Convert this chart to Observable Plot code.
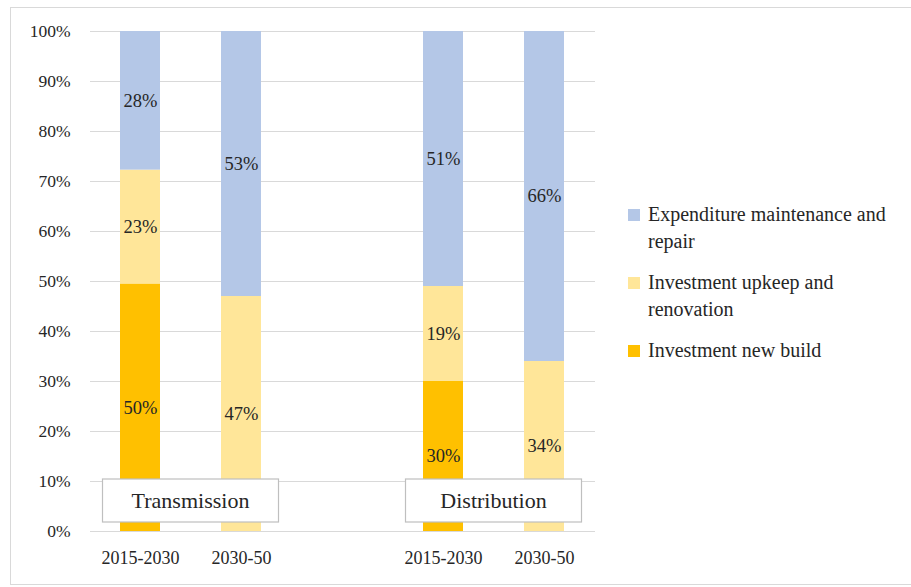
<!DOCTYPE html>
<html>
<head>
<meta charset="utf-8">
<script src="https://cdn.jsdelivr.net/npm/d3@7"></script>
<script src="https://cdn.jsdelivr.net/npm/@observablehq/plot@0.6"></script>
<style>
  html, body { margin: 0; padding: 0; background: #fff; }
  #wrap { position: relative; width: 911px; height: 587px; overflow: hidden;
          font-family: "Liberation Serif", "DejaVu Serif", serif; color: #262626; }
  #frame { position: absolute; left: 10px; top: 7px; width: 910px; height: 578px;
           border: 1px solid #d9d9d9; box-sizing: border-box; }
  #chart { position: absolute; left: 0; top: 0; }
  #legend { position: absolute; left: 628px; top: 201px; font-size: 20px; line-height: 27px; }
  .item { display: flex; align-items: flex-start; margin-bottom: 14px; }
  .sw { width: 12px; height: 12px; margin-top: 8px; margin-right: 8px; flex: none; }
  .lab { width: 258px; }
</style>
</head>
<body>
<div id="wrap">
  <div id="frame"></div>
  <div id="chart"></div>
  <div id="legend"></div>
</div>
<script>
// Bar slots along the x axis (the empty slot separates the two networks)
const slots = ["T1", "T2", "gap", "D1", "D2"];
const slotLabels = ["2015-2030", "2030-50", "", "2015-2030", "2030-50"];

// Cost components, bottom to top in each stack
const series = ["Investment new build", "Investment upkeep and renovation", "Expenditure maintenance and repair"];
const colors = ["#FFC000", "#FFE699", "#B4C7E7"];

// Shares (%) per slot, one array per component
const newBuild    = [50, 0, null, 30, 0];
const upkeep      = [23, 47, null, 19, 34];
const maintenance = [28, 53, null, 51, 66];

// Network groups and the slots they span
const groupNames = ["Transmission", "Distribution"];
const groupSlots = [["T1", "T2"], ["D1", "D2"]];

const yTicks = [0, 0.1, 0.2, 0.3, 0.4, 0.5, 0.6, 0.7, 0.8, 0.9, 1];

const rows = [];
[newBuild, upkeep, maintenance].forEach((vals, si) => {
  vals.forEach((v, i) => {
    if (v) rows.push({slot: slots[i], series: series[si], value: v});
  });
});

const stackOpts = {x: "slot", y: "value", z: "series", order: series, offset: "normalize"};

const chart = Plot.plot({
  width: 911,
  height: 587,
  marginTop: 31,
  marginBottom: 56,
  marginLeft: 90,
  marginRight: 316,
  style: {fontFamily: "'Liberation Serif', 'DejaVu Serif', serif", color: "#262626", background: "transparent"},
  x: {domain: slots, paddingInner: 0.6, paddingOuter: 0.3, label: null},
  y: {domain: [0, 1], label: null},
  color: {domain: series, range: colors},
  marks: [
    Plot.ruleY(yTicks, {stroke: "#d9d9d9", strokeWidth: 1.2}),
    Plot.axisY({ticks: yTicks, tickFormat: d3.format(".0%"), tickSize: 0, tickPadding: 20,
                fontSize: 17.5, label: null, fill: "#262626"}),
    Plot.axisX({tickSize: 0, tickPadding: 20, fontSize: 18, label: null, fill: "#262626",
                tickFormat: d => slotLabels[slots.indexOf(d)]}),
    Plot.barY(rows, Plot.stackY({...stackOpts, fill: "series"})),
    Plot.text(rows, Plot.stackY({...stackOpts, text: d => d.value + "%", fontSize: 18.5, fill: "#262626"}))
  ]
});
document.getElementById("chart").appendChild(chart);

// Group name boxes laid over the lower part of each pair of bars
const xs = chart.scale("x");
const ys = chart.scale("y");
const svg = d3.select(chart);
const boxW = 176;
groupNames.forEach((name, gi) => {
  const [a, b] = groupSlots[gi];
  const cx = (xs.apply(a) + xs.apply(b)) / 2 + xs.bandwidth / 2;
  const top = ys.apply(0.104), bottom = ys.apply(0.018);
  const g = svg.append("g");
  g.append("rect")
    .attr("x", cx - boxW / 2).attr("y", top)
    .attr("width", boxW).attr("height", bottom - top)
    .attr("fill", "#fff").attr("stroke", "#bfbfbf").attr("stroke-width", 1.2);
  g.append("text")
    .attr("x", cx).attr("y", (top + bottom) / 2)
    .attr("text-anchor", "middle").attr("dominant-baseline", "central")
    .attr("font-size", 22).attr("fill", "#262626")
    .text(name);
});

// Legend, top entry first
const legend = d3.select("#legend");
[2, 1, 0].forEach(i => {
  const item = legend.append("div").attr("class", "item");
  item.append("div").attr("class", "sw").style("background", colors[i]);
  item.append("div").attr("class", "lab").text(series[i]);
});
</script>
</body>
</html>
